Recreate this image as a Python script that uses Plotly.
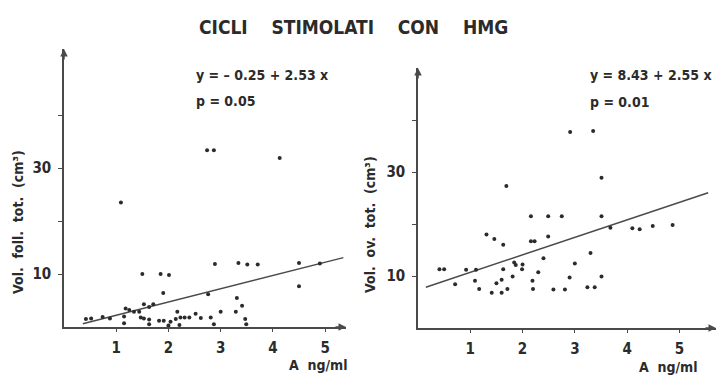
import plotly.graph_objects as go

# ---------------- data ----------------
title_text = "CICLI    STIMOLATI    CON    HMG"

left_x = [1.09, 1.50, 1.85, 2.01, 1.90, 2.89, 3.34, 3.51, 3.71, 4.50, 4.50, 4.90,
          2.76, 3.31, 3.41, 3.29, 3.00, 3.47, 3.49, 2.87, 2.81, 2.62, 2.52, 2.40,
          2.31, 2.23, 2.17, 2.14, 2.21, 2.04, 2.00, 1.91, 1.82, 1.63, 1.63, 1.53,
          1.47, 1.71, 1.63, 1.53, 1.44, 1.34, 1.25, 1.18, 1.15, 1.15, 0.88, 0.74,
          0.52, 0.42, 2.74, 2.87, 4.13]
left_y = [23.5, 10.0, 10.0, 9.8, 6.4, 11.9, 12.1, 11.8, 11.8, 12.1, 7.7, 12.0,
          6.2, 5.5, 4.0, 2.9, 2.9, 1.5, 0.5, 0.5, 1.8, 1.7, 2.5, 1.8,
          1.8, 1.8, 2.9, 1.5, 0.4, 1.0, 0.3, 1.2, 1.2, 1.4, 0.5, 1.6,
          1.8, 4.3, 3.8, 4.3, 2.9, 2.9, 3.2, 3.5, 2.0, 0.7, 1.6, 1.9,
          1.6, 1.5, 33.4, 33.4, 31.9]
left_fit_x = [0.36, 5.35]
left_fit_y = [0.6, 13.1]

right_x = [0.41, 0.50, 0.71, 0.92, 1.11, 1.09, 1.17, 1.31, 1.46, 1.41, 1.50, 1.60,
           1.60, 1.63, 1.63, 1.71, 1.81, 1.84, 1.87, 2.00, 1.99, 2.16, 2.16, 2.23,
           2.19, 2.20, 2.30, 2.40, 2.49, 2.49, 2.59, 2.75, 2.81, 2.90, 3.00, 3.24,
           3.38, 3.30, 3.51, 3.51, 3.68, 4.10, 4.24, 4.49, 4.87, 2.91, 3.35, 3.51,
           1.69]
right_y = [11.3, 11.3, 8.4, 11.2, 11.2, 9.1, 7.5, 18.0, 17.1, 6.8, 8.6, 9.3,
           6.8, 16.0, 11.3, 7.5, 9.9, 12.6, 12.1, 12.2, 11.3, 21.5, 16.7, 16.7,
           9.1, 7.5, 10.7, 13.4, 21.5, 17.6, 7.4, 21.5, 7.4, 9.7, 12.4, 7.85,
           7.85, 14.4, 21.5, 9.9, 19.3, 19.2, 19.0, 19.6, 19.8, 37.7, 37.9, 28.9,
           27.3]
right_fit_x = [0.15, 5.55]
right_fit_y = [7.85, 26.0]

y_tickvals = [10, 20, 30, 40]
y_ticktext = ["10", "", "30", ""]
x_tickvals = [1, 2, 3, 4, 5]
x_ticktext = ["1", "2", "3", "4", "5"]

left_eq = "y = – 0.25 + 2.53 x"
left_p = "p = 0.05"
right_eq = "y = 8.43 + 2.55 x"
right_p = "p = 0.01"
left_ylabel = "Vol.  foll.  tot.  (cm³)"
right_ylabel = "Vol.  ov.  tot.  (cm³)"
x_label = "A  ng/ml"

# ---------------- style ----------------
W, H = 718, 378
FONT = "Liberation Sans Narrow, DejaVu Sans Condensed, Arial Narrow, sans-serif"
INK = "#2b2b2b"
LINE = "#4a4a4a"

def px(x):
    return x / W

def py(y):
    return 1 - y / H

fig = go.Figure()

fig.add_trace(go.Scatter(x=left_fit_x, y=left_fit_y, mode="lines",
                         line=dict(color=LINE, width=1.5), xaxis="x", yaxis="y",
                         showlegend=False, hoverinfo="skip"))
fig.add_trace(go.Scatter(x=left_x, y=left_y, mode="markers",
                         marker=dict(color=INK, size=4), xaxis="x", yaxis="y",
                         showlegend=False))
fig.add_trace(go.Scatter(x=right_fit_x, y=right_fit_y, mode="lines",
                         line=dict(color=LINE, width=1.5), xaxis="x2", yaxis="y2",
                         showlegend=False, hoverinfo="skip"))
fig.add_trace(go.Scatter(x=right_x, y=right_y, mode="markers",
                         marker=dict(color=INK, size=4), xaxis="x2", yaxis="y2",
                         showlegend=False))

tickfont = dict(family=FONT, size=15, color=INK, weight="bold")

def xax(domain, rng, anchor):
    return dict(domain=domain, range=rng, anchor=anchor, showgrid=False, zeroline=False,
                showline=True, linecolor=LINE, linewidth=1.5,
                ticks="outside", ticklen=3, tickcolor=LINE, tickwidth=1,
                tickvals=x_tickvals, ticktext=x_ticktext, tickfont=tickfont,
                ticklabelstandoff=3, fixedrange=True)

def yax(domain, rng, anchor):
    return dict(domain=domain, range=rng, anchor=anchor, showgrid=False, zeroline=False,
                showline=True, linecolor=LINE, linewidth=1.5,
                ticks="outside", ticklen=4, tickcolor=LINE, tickwidth=1,
                tickvals=y_tickvals, ticktext=y_ticktext, tickfont=tickfont,
                ticklabelstandoff=4, fixedrange=True)

fig.update_layout(
    width=W, height=H,
    margin=dict(l=0, r=0, t=0, b=0),
    paper_bgcolor="white", plot_bgcolor="white",
    xaxis=xax([px(64), px(346)], [0, 5.4], "y"),
    yaxis=yax([py(327), py(49)], [0, 52.5], "x"),
    xaxis2=xax([px(418), px(716)], [0, 5.7], "y2"),
    yaxis2=yax([py(328), py(68)], [0, 50], "x2"),
)

ann = []
def text(x, y, s, size=15, xanchor="left", angle=0):
    ann.append(dict(x=px(x), y=py(y), xref="paper", yref="paper", text=s, showarrow=False,
                    xanchor=xanchor, yanchor="middle", textangle=angle,
                    font=dict(family=FONT, size=size, color=INK, weight="bold")))

text(353, 27, title_text, size=19, xanchor="center")
text(194, 75, left_eq, size=14)
text(194, 101, left_p, size=14)
text(588, 75, right_eq, size=14)
text(588, 102, right_p, size=14)
text(18, 222, left_ylabel, size=14, xanchor="center", angle=-90)
text(370, 225, right_ylabel, size=14, xanchor="center", angle=-90)
text(318, 365, x_label, size=14, xanchor="center")
text(668, 367, x_label, size=14, xanchor="center")

# arrowheads at axis ends
for xr, yr, xe, ye in [("x", "y", 5.4, 0), ("x2", "y2", 5.7, 0)]:
    ann.append(dict(x=xe, y=ye, xref=xr, yref=yr, ax=-12, ay=0, showarrow=True,
                    arrowhead=2, arrowsize=1, arrowwidth=1.5, arrowcolor=LINE, text=""))
for xr, yr, ye in [("x", "y", 52.5), ("x2", "y2", 50)]:
    ann.append(dict(x=0, y=ye, xref=xr, yref=yr, ax=0, ay=12, showarrow=True,
                    arrowhead=2, arrowsize=1, arrowwidth=1.5, arrowcolor=LINE, text=""))

fig.update_layout(annotations=ann)

fig.write_html("out.html", config={"displayModeBar": False},
               post_script="document.body.style.margin='0';document.body.style.overflow='hidden';")
